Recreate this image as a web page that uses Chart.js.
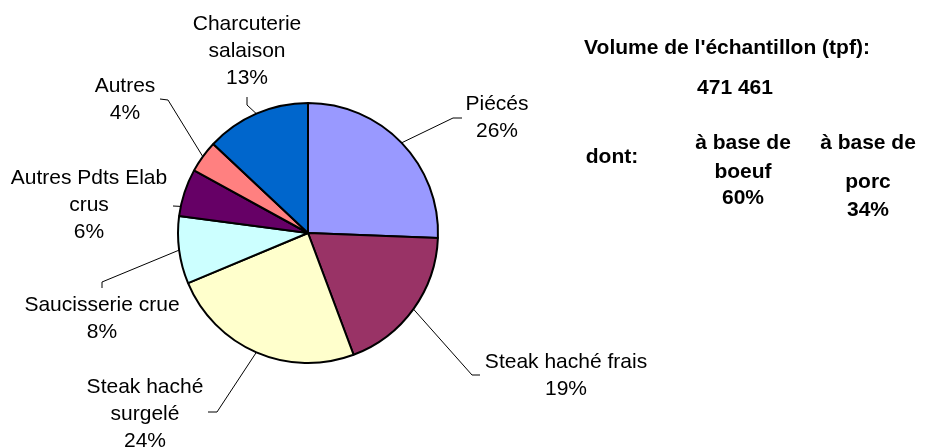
<!DOCTYPE html>
<html>
<head>
<meta charset="utf-8">
<script src="https://cdn.jsdelivr.net/npm/chart.js@4"></script>
<style>
  body { margin: 0; background: #fff; }
  canvas { display: block; }
</style>
</head>
<body>
<canvas id="myChart" width="931" height="448"></canvas>
<script>
// données
const categories = ['Piécés', 'Steak haché frais', 'Steak haché surgelé', 'Saucisserie crue', 'Autres Pdts Elab crus', 'Autres', 'Charcuterie salaison']
const parts = [25.6, 18.7, 24.4, 8.4, 5.9, 4.0, 13.0]
const couleurs = ['#9999FF', '#993366', '#FFFFCC', '#CCFFFF', '#660066', '#FF8080', '#0066CC']
    // texte de droite
const titreVolume = "Volume de l'échantillon (tpf):"
const volume = '471 461'
const dontBoeuf = 60
const dontPorc = 34

const police = "'Liberation Sans', Arial, sans-serif"

// position des étiquettes (centre du texte, 1re ligne) et coudes des traits de rappel
const etiquettes = [
    { lignes: ['Piécés'], x: 497, y: 104, frac: 0.5, trait: [[453, 118], [462, 118]] },
    { lignes: ['Steak haché frais'], x: 566, y: 362, frac: 0.5, trait: [[472, 375], [480, 375]] },
    { lignes: ['Steak haché', 'surgelé'], x: 145, y: 387, frac: 0.5, trait: [[217, 412], [208, 412]] },
    { lignes: ['Saucisserie crue'], x: 102, y: 305, frac: 0.5, trait: [[102, 282], [102, 288]] },
    { lignes: ['Autres Pdts Elab', 'crus'], x: 89, y: 178, frac: 0.2, trait: [[173, 206]] },
    { lignes: ['Autres'], x: 125, y: 86, frac: 0.5, trait: [[168, 100], [160, 99]] },
    { lignes: ['Charcuterie', 'salaison'], x: 247, y: 24, frac: 0.5, trait: [[247, 105], [247, 97]] }
]

const pluginEtiquettes = {
    id: 'etiquettes',
    afterDraw(chart) {
        const ctx = chart.ctx
        const arcs = chart.getDatasetMeta(0).data
        const total = parts.reduce((a, b) => a + b, 0)
        ctx.save()
        ctx.strokeStyle = '#000'
        ctx.lineWidth = 1
        arcs.forEach((arc, i) => {
            const e = etiquettes[i]
            const p = arc.getProps(['x', 'y', 'startAngle', 'endAngle', 'outerRadius'], true)
            const a = p.startAngle + (p.endAngle - p.startAngle) * e.frac
            ctx.beginPath()
            ctx.moveTo(p.x + Math.cos(a) * p.outerRadius, p.y + Math.sin(a) * p.outerRadius)
            e.trait.forEach(pt => ctx.lineTo(pt[0], pt[1]))
            ctx.stroke()

            ctx.fillStyle = '#000'
            ctx.font = '21px ' + police
            ctx.textAlign = 'center'
            ctx.textBaseline = 'middle'
            const lignes = e.lignes.concat([Math.round(parts[i] / total * 100) + '%'])
            lignes.forEach((t, k) => ctx.fillText(t, e.x, e.y + k * 27))
        })

        // bloc de texte à droite
        ctx.font = 'bold 21px ' + police
        ctx.textAlign = 'center'
        ctx.textBaseline = 'middle'
        ctx.fillText(titreVolume, 727, 48)
        ctx.fillText(volume, 735, 88)
        ctx.fillText('dont:', 612, 157)
        ctx.fillText('à base de', 743, 143)
        ctx.fillText('boeuf', 743, 172)
        ctx.fillText(dontBoeuf + '%', 743, 198)
        ctx.fillText('à base de', 868, 143)
        ctx.fillText('porc', 868, 182)
        ctx.fillText(dontPorc + '%', 868, 210)
        ctx.restore()
    }
}

const data = {
    labels: categories,
    datasets: [{
        data: parts,
        backgroundColor: couleurs,
        borderColor: '#000',
        borderWidth: 2,
        radius: 130
    }]
}

const config = {
    type: 'pie',
    data: data,
    options: {
        responsive: false,
        animation: false,
        layout: {
            padding: { left: 178, right: 493, top: 103, bottom: 85 }
        },
        plugins: {
            legend: { display: false },
            tooltip: { enabled: false }
        }
    },
    plugins: [pluginEtiquettes]
}

const myChart = new Chart(document.getElementById('myChart'), config)
</script>
</body>
</html>
